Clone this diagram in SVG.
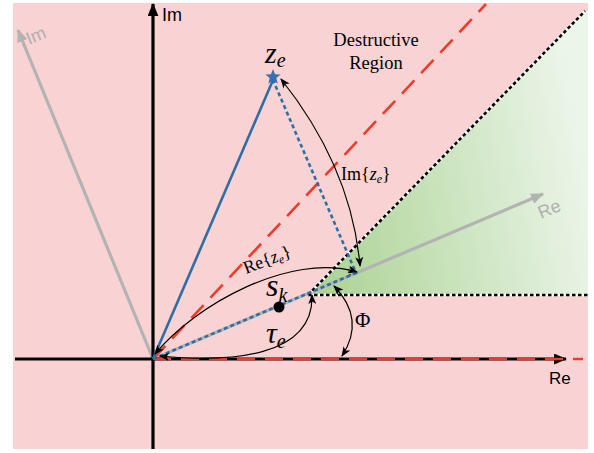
<svg xmlns="http://www.w3.org/2000/svg" width="594" height="453" viewBox="0 0 594 453">
<defs>
<linearGradient id="grn" gradientUnits="userSpaceOnUse" x1="308" y1="220" x2="588" y2="170">
<stop offset="0" stop-color="#acd393"/>
<stop offset="0.45" stop-color="#c8e2ba"/>
<stop offset="1" stop-color="#ecf5ea"/>
</linearGradient>
<marker id="ah" viewBox="0 0 10 8" refX="9" refY="4" markerWidth="10" markerHeight="8" markerUnits="userSpaceOnUse" orient="auto-start-reverse">
<path d="M0,0 L10,4 L0,8 L2.5,4 Z" fill="#000"/>
</marker>
<marker id="axh" viewBox="0 0 12 10" refX="11" refY="5" markerWidth="13" markerHeight="11" markerUnits="userSpaceOnUse" orient="auto">
<path d="M0,0 L12,5 L0,10 Z" fill="#000"/>
</marker>
<marker id="gah" viewBox="0 0 12 10" refX="11" refY="5" markerWidth="13" markerHeight="11" markerUnits="userSpaceOnUse" orient="auto">
<path d="M0,0 L12,5 L0,10 Z" fill="#b3b3b3"/>
</marker>
</defs>
<style>
.serif{font-family:"Liberation Serif","Times New Roman",serif;fill:#000}
.sans{font-family:"Liberation Sans",Arial,sans-serif}
.it{font-style:italic}
.arc{fill:none;stroke:#000;stroke-width:1.2;marker-start:url(#ah);marker-end:url(#ah)}
.dotw{fill:none;stroke:#fff;stroke-width:2.6}
.dotk{fill:none;stroke:#000;stroke-width:2.6;stroke-dasharray:3.5 2.5}
.blued{fill:none;stroke:#2f6ea5;stroke-width:2.6;stroke-dasharray:4 3}
.red{fill:none;stroke:#ee3b2b;stroke-width:2.6;stroke-dasharray:18 10}
.gray{fill:none;stroke:#b3b3b3;stroke-width:3.2;marker-end:url(#gah)}
.axis{fill:none;stroke:#000;stroke-width:3.2}
</style>
<rect x="13" y="3" width="575" height="446" fill="#f9d3d3"/>
<g id="destructive-region">
<polygon points="308,295 585,11 588,11 588,295" fill="url(#grn)"/>
</g>
<g id="rotated-axes">
<line class="gray" x1="153" y1="359" x2="543" y2="194"/>
<line class="gray" x1="153" y1="359" x2="18" y2="30"/>
<text class="sans" font-size="18" fill="#b0b0b0" transform="translate(541,219) rotate(-22.5)">Re</text>
<text class="sans" font-size="18" fill="#b0b0b0" transform="translate(29,45) rotate(-22.5)">Im</text>
</g>
<g id="connectors">
<line class="red" x1="153" y1="359" x2="486" y2="4"/>
<line class="axis" x1="15" y1="359" x2="566" y2="359" marker-end="url(#axh)"/>
<line class="axis" x1="153" y1="449" x2="153" y2="4" marker-end="url(#axh)"/>
<line class="red" x1="153" y1="359" x2="583" y2="359"/>
<line x1="153" y1="359" x2="273" y2="80" stroke="#2f6ea5" stroke-width="2.6"/>
<path class="dotw" d="M308,295 L585,11 M308,295 L588,295"/>
<path class="dotk" d="M308,295 L585,11 M308,295 L588,295"/>
<path class="blued" d="M153,359 L356,273 L273,80"/>
<path d="M350.5,275.3 L348.2,269.7 L353.7,267.5" fill="none" stroke="#000" stroke-width="1" stroke-dasharray="1.5 1.5"/>
<path class="arc" d="M281,79 Q351.5,167.5 360,266"/>
<path class="arc" d="M155,354 C195,305 290,252 357,272"/>
<path class="arc" d="M160,356 C230,363 314,357 312,295"/>
<path class="arc" d="M334,286 Q366,319 342,356"/>
</g>
<g id="ze">
<polygon points="273,69 275.06,74.17 280.6,74.53 276.33,78.08 277.7,83.47 273,80.5 268.3,83.47 269.67,78.08 265.4,74.53 270.94,74.17" fill="#3a6fb0"/>
<text class="serif it" x="265" y="63" font-size="30">z<tspan font-size="20" dy="4">e</tspan></text>
</g>
<g id="sk">
<circle cx="279" cy="307" r="5.5" fill="#000"/>
<text class="serif it" x="266" y="296" font-size="32">s<tspan font-size="20" dy="6">k</tspan></text>
</g>
<g id="labels">
<text class="serif it" x="266" y="343" font-size="30">τ<tspan font-size="20" dy="5">e</tspan></text>
<text class="serif" x="355" y="327" font-size="21">Φ</text>
<text class="serif" x="341" y="180" font-size="18">Im{<tspan class="it">z</tspan><tspan class="it" font-size="12" dy="3">e</tspan><tspan dy="-3">}</tspan></text>
<text class="serif" font-size="18" transform="translate(246,274) rotate(-21)">Re{<tspan class="it">z</tspan><tspan class="it" font-size="12" dy="3">e</tspan><tspan dy="-3">}</tspan></text>
<text class="serif" x="376" y="46" font-size="18.5" text-anchor="middle">Destructive</text>
<text class="serif" x="376" y="69" font-size="18.5" text-anchor="middle">Region</text>
<text class="sans" x="162" y="21" font-size="18" fill="#000">Im</text>
<text class="sans" x="549" y="384" font-size="17" fill="#000">Re</text>
</g>
</svg>
